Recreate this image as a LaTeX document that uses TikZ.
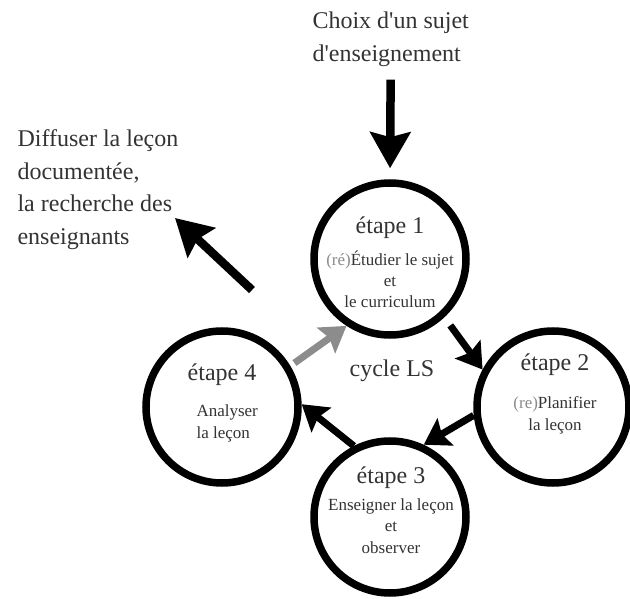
\documentclass[tikz,border=0pt]{standalone}
\usepackage{fontspec}
\setmainfont{Liberation Serif}
\usetikzlibrary{arrows.meta}
\definecolor{encre}{HTML}{333333}
\definecolor{pale}{HTML}{8A8A8A}
\definecolor{grisfleche}{HTML}{8C8C8C}
\begin{document}
\begin{tikzpicture}[
        x=1pt, y=-1pt,
        etape/.style={circle, draw=black, line width=7.5pt, minimum size=152pt, inner sep=0pt},
        titre/.style={anchor=base, text=encre, font=\fontsize{24}{28}\selectfont},
        desc/.style={anchor=base, align=center, text=encre, font=\fontsize{17}{21.5}\selectfont},
        grand/.style={anchor=base west, align=left, text=encre, font=\fontsize{24}{33}\selectfont},
        fleche/.style={-{Stealth[length=25pt, width=31pt, inset=4pt]}, line width=7pt, black},
        grosse/.style={-{Stealth[length=36pt, width=40pt, inset=5pt]}, line width=8.5pt, black}
    ]
    \useasboundingbox (0,0) rectangle (630,599);
    % Nodes (multi-line texts sit on their last baseline)
    \node[etape] (s1) at (390,259) {};
    \node[etape] (s2) at (553,407) {};
    \node[etape] (s3) at (390,517) {};
    \node[etape] (s4) at (222,407) {};
    \node[titre] (t1) at (390,234) {étape 1};
    \node[desc] (d1) at (390,308) {\textcolor{pale}{(ré)}Étudier le sujet\\et\\le curriculum};
    \node[titre] (t2) at (555,370) {étape 2};
    \node[desc] (d2) at (555,430) {\textcolor{pale}{(re)}Planifier\\la leçon};
    \node[titre] (t3) at (391,483) {étape 3};
    \node[desc] (d3) at (391,553) {Enseigner la leçon\\et\\observer};
    \node[titre] (t4) at (222,380) {étape 4};
    \node[desc, anchor=base west, align=left] (d4) at (193,438) {Analyser\\la leçon};
    \node[titre] (cycle) at (392,376) {cycle LS};
    \node[grand] (choix) at (309,62) {Choix d\textquotesingle un sujet\\d\textquotesingle enseignement};
    \node[grand] (diffuser) at (14,245) {Diffuser la leçon\\documentée,\\la recherche des\\enseignants};
    \coordinate (depart) at (252,290);
    \coordinate (sortie) at (175,218);
    % Edges
    \draw[grosse, shorten <=9pt, shorten >=11pt] (choix.south) -- (s1.north);
    \draw[grosse] (depart) -- (sortie);
    \draw[fleche, shorten <=10pt] (s1.-47) -- (s2.152);
    \draw[fleche] (s2.186) -- (s3.65);
    \draw[fleche] (s3.117) -- (s4.2);
    \draw[fleche, grisfleche, shorten <=5pt] (s4.31) -- (s1.237);
\end{tikzpicture}
\end{document}
